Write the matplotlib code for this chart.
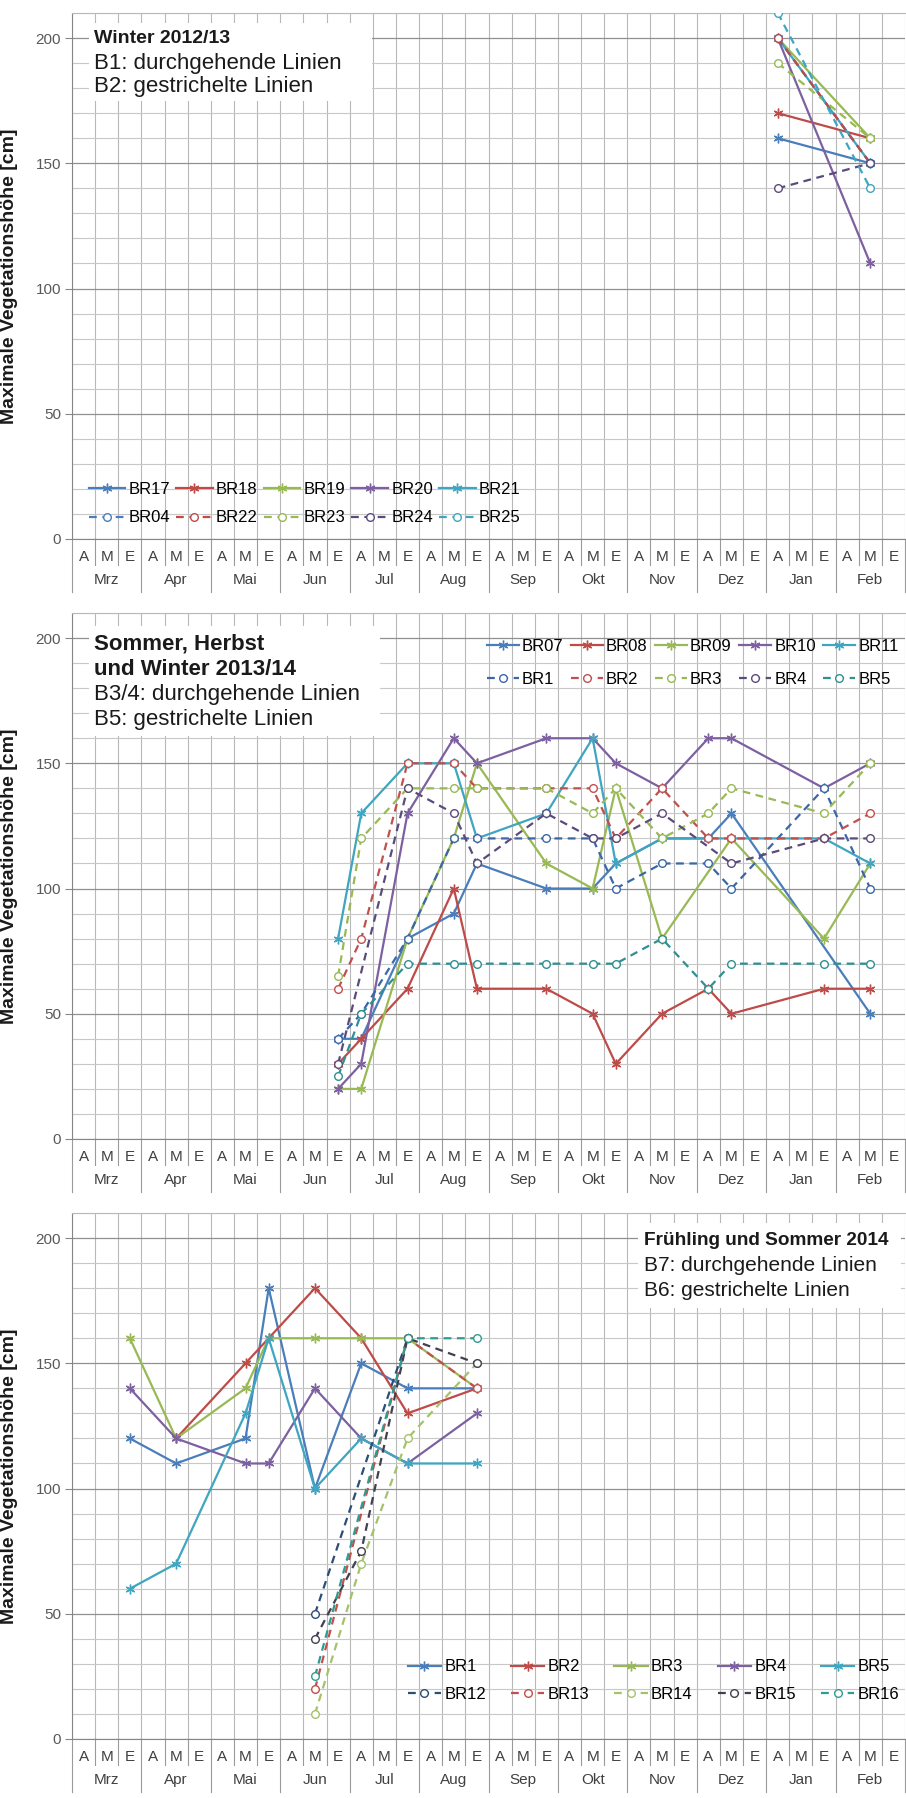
import numpy as np
import matplotlib.pyplot as plt
from matplotlib.lines import Line2D
from matplotlib.patches import Rectangle

plt.rcParams['font.family'] = ['Liberation Sans', 'DejaVu Sans']

months = ['Mrz', 'Apr', 'Mai', 'Jun', 'Jul', 'Aug', 'Sep', 'Okt', 'Nov', 'Dez', 'Jan', 'Feb']
thirds = ['A', 'M', 'E']
slots = [m + ' ' + t for m in months for t in thirds]

# Winter 2012/13
p1_dates = ['Jan A', 'Feb M']
p1_solid = ['BR17', 'BR18', 'BR19', 'BR20', 'BR21']
p1_dash = ['BR04', 'BR22', 'BR23', 'BR24', 'BR25']
p1_solid_vals = [[160, 150], [170, 160], [200, 160], [200, 110], [200, 150]]
p1_dash_vals = [[200, 150], [200, 150], [190, 160], [140, 150], [210, 140]]

# Sommer, Herbst und Winter 2013/14
p2_dates = ['Jun E', 'Jul A', 'Jul E', 'Aug M', 'Aug E', 'Sep E', 'Okt M',
            'Okt E', 'Nov M', 'Dez A', 'Dez M', 'Jan E', 'Feb M']
p2_solid = ['BR07', 'BR08', 'BR09', 'BR10', 'BR11']
p2_dash = ['BR1', 'BR2', 'BR3', 'BR4', 'BR5']
p2_solid_vals = [
    [40, 40, 80, 90, 110, 100, 100, 110, 120, 120, 130, None, 50],
    [30, 40, 60, 100, 60, 60, 50, 30, 50, 60, 50, 60, 60],
    [20, 20, 80, 120, 150, 110, 100, 140, 80, None, 120, 80, 110],
    [20, 30, 130, 160, 150, 160, 160, 150, 140, 160, 160, 140, 150],
    [80, 130, 150, 150, 120, 130, 160, 110, 120, 120, 120, 120, 110],
]
p2_dash_vals = [
    [40, 50, 80, 120, 120, 120, 120, 100, 110, 110, 100, 140, 100],
    [60, 80, 150, 150, 140, 140, 140, 120, 140, 120, 120, 120, 130],
    [65, 120, 140, 140, 140, 140, 130, 140, 120, 130, 140, 130, 150],
    [30, None, 140, 130, 110, 130, 120, 120, 130, None, 110, 120, 120],
    [25, 50, 70, 70, 70, 70, 70, 70, 80, 60, 70, 70, 70],
]

# Fruehling und Sommer 2014
p3_dates = ['Mrz E', 'Apr M', 'Mai M', 'Mai E', 'Jun M', 'Jul A', 'Jul E', 'Aug E']
p3_solid = ['BR1', 'BR2', 'BR3', 'BR4', 'BR5']
p3_dash = ['BR12', 'BR13', 'BR14', 'BR15', 'BR16']
p3_solid_vals = [
    [120, 110, 120, 180, 100, 150, 140, 140],
    [None, 120, 150, 160, 180, 160, 130, 140],
    [160, 120, 140, 160, 160, 160, 160, 140],
    [140, 120, 110, 110, 140, 120, 110, 130],
    [60, 70, 130, 160, 100, 120, 110, 110],
]
p3_dash_vals = [
    [None, None, None, None, 50, None, 160, None],
    [None, None, None, None, 20, None, 160, 140],
    [None, None, None, None, 10, 70, 120, 150],
    [None, None, None, None, 40, 75, 160, 150],
    [None, None, None, None, 25, None, 160, 160],
]

solid_colors = ['#4A7EBB', '#BE4B48', '#98B954', '#7D60A0', '#3FA5C0']
dash_colors_1 = ['#4A7EBB', '#BE4B48', '#98B954', '#5B4A7C', '#3FA5C0']
dash_colors_2 = ['#3A67A8', '#C0504D', '#98B954', '#5B4A7C', '#2F8F92']
dash_colors_3 = ['#2C4D75', '#C0504D', '#A5C26A', '#404050', '#2E9C91']

star = (6, 2, 0)
W, H = 906, 1798
px_left, px_right = 72, 905


def draw_panel(ax, dates, snames, svals, dnames, dvals, dcolors, notes, note_box, leg):
    ax.set_xlim(-0.5, 35.5)
    ax.set_ylim(0, 210)
    ax.set_yticks([0, 50, 100, 150, 200])
    ax.set_yticks(np.arange(0, 211, 10), minor=True)
    ax.set_xticks([])
    ax.set_xticks(np.arange(-0.5, 36, 1), minor=True)
    ax.grid(which='minor', axis='y', color='#c8c8c8', lw=0.8)
    ax.grid(which='major', axis='y', color='#909090', lw=0.9)
    ax.grid(which='minor', axis='x', color='#b8b8b8', lw=0.8)
    ax.set_axisbelow(True)
    ax.tick_params(axis='y', which='major', length=5, color='#868686',
                   labelsize=11, labelcolor='#595959', pad=3)
    ax.tick_params(which='minor', length=0)
    for s in ['left', 'bottom']:
        ax.spines[s].set_color('#868686')
    ax.spines['top'].set_color('#b8b8b8')
    ax.spines['right'].set_visible(False)
    ax.set_ylabel('Maximale Vegetationshöhe [cm]', fontsize=14, fontweight='bold',
                  color='#1a1a1a')
    ax.yaxis.set_label_coords(-0.065, 0.5)

    xt = ax.get_xaxis_transform()
    for i, lab in enumerate(thirds * 12):
        ax.text(i, -0.034, lab, transform=xt, ha='center', va='center',
                fontsize=11, color='#404040')
    for m, lab in enumerate(months):
        ax.text(3 * m + 1, -0.077, lab, transform=xt, ha='center', va='center',
                fontsize=11, color='#404040')
    for k in range(37):
        low = -0.101 if k % 3 == 0 else -0.049
        ax.plot([k - 0.5, k - 0.5], [0, low], transform=xt, color='#9a9a9a',
                lw=0.8, clip_on=False)

    xs = np.array([slots.index(d) for d in dates])
    handles = []
    for n, v, c, dn, dv, dc in zip(snames, svals, solid_colors, dnames, dvals, dcolors):
        v = np.array([np.nan if a is None else a for a in v], dtype=float)
        ok = ~np.isnan(v)
        ax.plot(xs[ok], v[ok], color=c, lw=1.6, marker=star, ms=7, mew=1, zorder=3)
        handles.append(Line2D([], [], color=c, lw=1.6, marker=star, ms=7, mew=1, label=n))
        dv = np.array([np.nan if a is None else a for a in dv], dtype=float)
        ok = ~np.isnan(dv)
        ax.plot(xs[ok], dv[ok], color=dc, lw=1.6, ls=(0, (3.5, 2.5)), marker='o',
                ms=5.5, mfc='white', mew=1, zorder=4)
        handles.append(Line2D([], [], color=dc, lw=1.6, ls=(0, (3.5, 2.5)), marker='o',
                              ms=5.5, mfc='white', mew=1, label=dn))

    yt = ax.get_yaxis_transform()
    bx0, bx1, by0, by1 = note_box
    ax.add_patch(Rectangle((bx0, by0), bx1 - bx0, by1 - by0, transform=yt,
                           facecolor='white', edgecolor='none', zorder=1.5))
    for x, y, txt, bold, size in notes:
        ax.text(x, y, txt, transform=yt, ha='left', va='center', fontsize=size,
                fontweight='bold' if bold else 'normal', color='#1a1a1a', zorder=5)

    lx, ly, hl, cs, ls = leg
    ax.legend(handles=handles, ncol=5, loc='center left', bbox_to_anchor=(lx, ly),
              frameon=False, fontsize=12, handlelength=hl, handletextpad=0.2,
              columnspacing=cs, labelspacing=ls, borderpad=0, borderaxespad=0)


fig = plt.figure(figsize=(W / 100, H / 100), dpi=100)


def add_panel(px_bottom):
    return fig.add_axes([px_left / W, 1 - px_bottom / H, (px_right - px_left) / W, 526 / H])


ax1 = add_panel(539)
draw_panel(ax1, p1_dates, p1_solid, p1_solid_vals, p1_dash, p1_dash_vals, dash_colors_1,
           [(0.026, 200, 'Winter 2012/13', True, 14),
            (0.026, 190, 'B1: durchgehende Linien', False, 16),
            (0.026, 180.5, 'B2: gestrichelte Linien', False, 16)],
           (0.02, 0.36, 175, 206),
           (0.020, 0.067, 2.2, 0.35, 0.8))

ax2 = add_panel(1139)
draw_panel(ax2, p2_dates, p2_solid, p2_solid_vals, p2_dash, p2_dash_vals, dash_colors_2,
           [(0.026, 197.5, 'Sommer, Herbst', True, 16),
            (0.026, 187.5, 'und Winter 2013/14', True, 16),
            (0.026, 177.5, 'B3/4: durchgehende Linien', False, 16),
            (0.026, 167.5, 'B5: gestrichelte Linien', False, 16)],
           (0.02, 0.37, 161, 205),
           (0.498, 0.905, 1.9, 0.45, 1.1))

ax3 = add_panel(1739)
draw_panel(ax3, p3_dates, p3_solid, p3_solid_vals, p3_dash, p3_dash_vals, dash_colors_3,
           [(0.687, 199, 'Frühling und Sommer 2014', True, 13.7),
            (0.687, 189, 'B7: durchgehende Linien', False, 15),
            (0.687, 179, 'B6: gestrichelte Linien', False, 15)],
           (0.68, 0.995, 172, 206),
           (0.403, 0.111, 2.0, 1.5, 0.75))

fig.savefig('out.png', dpi=100, facecolor='white')
